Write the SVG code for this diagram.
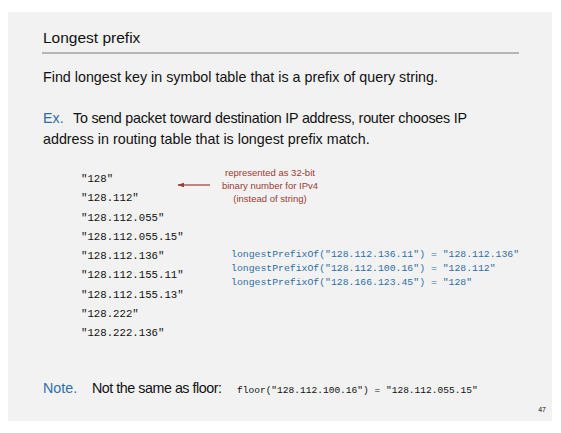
<svg xmlns="http://www.w3.org/2000/svg" width="561" height="433" viewBox="0 0 561 433">
<defs>
<style>
.sans{font-family:"Liberation Sans","DejaVu Sans",sans-serif;fill:#111;white-space:pre}
.title{font-size:15.5px}
.body{font-size:14.3px}
.blue{fill:#2e6ea6}
.mono{font-family:"Liberation Mono","DejaVu Sans Mono",monospace;fill:#111;font-size:10.7px}
.floor{font-family:"Liberation Mono","DejaVu Sans Mono",monospace;fill:#111;font-size:9.55px}
.code{font-family:"Liberation Mono","DejaVu Sans Mono",monospace;fill:#2e6ea6;font-size:9.8px}
.note{font-family:"Liberation Sans",sans-serif;fill:#9e3b34;font-size:9.5px;text-anchor:middle}
.page{font-size:7px}
</style>
<marker id="ah" viewBox="0 0 10 10" refX="9" refY="5" markerWidth="6" markerHeight="6" orient="auto-start-reverse">
<path d="M0,1.5 L10,5 L0,8.5 z" fill="#9e3b34"/>
</marker>
</defs>
<rect x="0" y="0" width="561" height="433" fill="#ffffff"/>
<rect x="8" y="12" width="544" height="409" fill="#f2f2f2"/>
<text class="sans title" x="43" y="43">Longest prefix</text>
<line x1="42" y1="53" x2="519" y2="53" stroke="#7a7a7a" stroke-width="1.2"/>
<text class="sans body" x="43" y="82">Find longest key in symbol table that is a prefix of query string.</text>
<text class="sans body" y="123"><tspan class="blue" x="43">Ex.</tspan><tspan x="73" textLength="394" lengthAdjust="spacing">To send packet toward destination IP address, router chooses IP</tspan></text>
<text class="sans body" x="43" y="144">address in routing table that is longest prefix match.</text>
<g id="keys">
<text class="mono" x="81" y="182">"128"</text>
<text class="mono" x="81" y="201">"128.112"</text>
<text class="mono" x="81" y="221">"128.112.055"</text>
<text class="mono" x="81" y="240">"128.112.055.15"</text>
<text class="mono" x="81" y="259">"128.112.136"</text>
<text class="mono" x="81" y="278">"128.112.155.11"</text>
<text class="mono" x="81" y="298">"128.112.155.13"</text>
<text class="mono" x="81" y="317">"128.222"</text>
<text class="mono" x="81" y="336">"128.222.136"</text>
</g>
<g id="annotation">
<text class="note" x="270" y="176">represented as 32-bit</text>
<text class="note" x="270" y="189">binary number for IPv4</text>
<text class="note" x="270" y="202">(instead of string)</text>
</g>
<g id="connectors">
<line x1="210" y1="185" x2="178" y2="185" stroke="#9e3b34" stroke-width="1.2" marker-end="url(#ah)"/>
</g>
<g id="queries">
<text class="code" x="231" y="257">longestPrefixOf("128.112.136.11") = "128.112.136"</text>
<text class="code" x="231" y="271">longestPrefixOf("128.112.100.16") = "128.112"</text>
<text class="code" x="231" y="285">longestPrefixOf("128.166.123.45") = "128"</text>
</g>
<text class="sans body" y="393"><tspan class="blue" x="43">Note.</tspan><tspan x="92" textLength="130" lengthAdjust="spacing">Not the same as floor:</tspan></text>
<text class="floor" x="237" y="393">floor("128.112.100.16") = "128.112.055.15"</text>
<text class="sans page" x="546" y="412" text-anchor="end">47</text>
</svg>
